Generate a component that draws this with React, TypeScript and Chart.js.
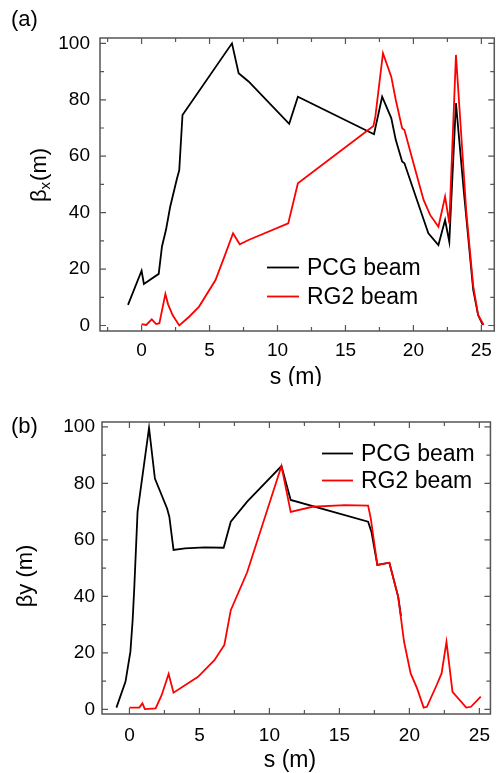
import React, { useEffect, useRef } from "react";
import { Chart, registerables } from "chart.js";

Chart.register(...registerables);

const FONT = "'Liberation Sans', Arial, Helvetica, sans-serif";

// ---------- Panel (a): beta_x ----------
const sPcgX = [-1.0, 0.0, 0.17, 1.26, 1.5, 1.8, 2.1, 2.6, 2.77, 3.01, 6.65, 7.14, 7.87, 10.86, 11.5, 17.1, 17.7, 18.37, 18.7, 19.17, 19.34, 20.26, 21.1, 21.84, 22.33, 22.64, 23.13, 23.7, 24.4, 24.76, 25.1];
const betaPcgX = [7.3, 19.4, 14.7, 18.3, 28, 34, 42, 52, 55, 74.6, 100, 89.4, 86.5, 71.5, 81.1, 67.8, 81.1, 73.5, 65.8, 58.1, 57.5, 44.5, 32.7, 28.5, 37.4, 29.7, 78.8, 48, 12.6, 3.7, 0.2];

const sRg2X = [0.0, 0.34, 0.75, 1.07, 1.31, 1.75, 1.95, 2.28, 2.77, 3.5, 4.23, 5.44, 6.1, 6.73, 7.22, 7.87, 10.79, 11.5, 17.06, 17.2, 17.76, 18.37, 18.7, 19.17, 19.34, 20.14, 20.75, 21.23, 21.84, 22.33, 22.64, 23.13, 23.9, 24.4, 24.76, 25.17];
const betaRg2X = [0.5, 0.2, 2.2, 0.5, 0.8, 11.2, 7.5, 3.7, 0.0, 3.1, 6.7, 16.1, 24.5, 32.7, 28.8, 30.3, 36.2, 50.4, 70.7, 74, 96.5, 88.2, 80, 69.9, 69.3, 55.1, 44.5, 39.2, 35, 45.7, 36.2, 95.9, 39.8, 14, 3.7, 0.2];

// ---------- Panel (b): beta_y ----------
const sPcgY = [-0.93, -0.28, 0.07, 0.23, 0.35, 0.58, 1.4, 1.82, 2.69, 2.85, 3.15, 3.97, 5.37, 6.73, 7.24, 8.41, 10.86, 11.52, 17.05, 17.29, 17.71, 18.57, 19.2, 19.4];
const betaPcgY = [0.6, 9.8, 20.4, 31.6, 43.4, 69.9, 99.6, 81.7, 71.1, 68.2, 56.4, 57.0, 57.3, 57.2, 66.4, 73.5, 86.1, 74.1, 66.4, 62.8, 51.1, 51.9, 39.8, 33];

const sRg2Y = [0.0, 0.7, 0.93, 1.1, 1.87, 2.3, 2.8, 3.15, 4.9, 6.07, 6.78, 7.24, 8.41, 10.86, 11.52, 13.08, 15.42, 17.05, 17.24, 17.71, 18.57, 19.2, 19.62, 20.09, 20.55, 21.02, 21.25, 21.95, 22.3, 22.65, 23.08, 24.06, 24.4, 25.1];
const betaRg2Y = [0.6, 0.6, 2.1, 0.1, 0.3, 5, 12.5, 5.9, 11.5, 17.4, 22.8, 35.1, 48.5, 86.1, 69.9, 71.7, 72.3, 72.1, 67.6, 51.1, 51.9, 39.8, 23.9, 12.7, 7.4, 0.6, 0.9, 8.6, 12.7, 23.9, 6.2, 0.6, 0.9, 4.5];

// ---------- Ticks & labels ----------
const xMajor = [0, 5, 10, 15, 20, 25];
const xMinor = [-2.5, 2.5, 7.5, 12.5, 17.5, 22.5];
const yMajor = [0, 20, 40, 60, 80, 100];
const yMinor = [10, 30, 50, 70, 90];
const seriesNames = ["PCG beam", "RG2 beam"];
const seriesColors = ["#000000", "#ff0000"];

type Panel = {
  height: number;
  xMin: number; xMax: number; yMin: number; yMax: number;
  area: { left: number; top: number; right: number; bottom: number };
  xPad: number; yPad: number;
  series: { s: number[]; b: number[] }[];
  legend: { x1: number; x2: number; tx: number; ys: number[] };
  panelLabel: { text: string; x: number; y: number };
  yTitle: { x: number; y: number; main: string; sub: string; rest: string };
  xTitle: { x: number; y: number; text: string };
};

const panels: Panel[] = [
  {
    height: 386,
    xMin: -3.06, xMax: 25.95, yMin: -1.95, yMax: 101.9,
    area: { left: 100, top: 38, right: 498, bottom: 331 },
    xPad: 8, yPad: 10,
    series: [{ s: sPcgX, b: betaPcgX }, { s: sRg2X, b: betaRg2X }],
    legend: { x1: 267, x2: 299, tx: 307, ys: [267.5, 296.5] },
    panelLabel: { text: "(a)", x: 11, y: 20 },
    yTitle: { x: 40, y: 175, main: "\u03b2", sub: "x", rest: "(m)" },
    xTitle: { x: 296, y: 378, text: "s (m)" },
  },
  {
    height: 387,
    xMin: -1.96, xMax: 25.79, yMin: -1.66, yMax: 101.7,
    area: { left: 102, top: 36, right: 498, bottom: 328 },
    xPad: 10, yPad: 7,
    series: [{ s: sPcgY, b: betaPcgY }, { s: sRg2Y, b: betaRg2Y }],
    legend: { x1: 322, x2: 353, tx: 361, ys: [67.5, 94.5] },
    panelLabel: { text: "(b)", x: 11, y: 41 },
    yTitle: { x: 26, y: 190, main: "\u03b2y (m)", sub: "", rest: "" },
    xTitle: { x: 290, y: 375, text: "s (m)" },
  },
];

function makeDecor(p: Panel) {
  return {
    id: "decor",
    afterDraw(chart: any) {
      const ctx: CanvasRenderingContext2D = chart.ctx;
      const { left, top, right, bottom } = chart.chartArea;
      const xs = chart.scales.x;
      const ys = chart.scales.y;
      ctx.save();
      // frame
      ctx.strokeStyle = "#555555";
      ctx.lineWidth = 1.5;
      ctx.strokeRect(left, top, right - left, bottom - top);
      // ticks (inward)
      ctx.lineWidth = 1.2;
      const tickX = (v: number, len: number) => {
        if (v < p.xMin || v > p.xMax) return;
        const px = xs.getPixelForValue(v);
        ctx.beginPath();
        ctx.moveTo(px, bottom); ctx.lineTo(px, bottom - len);
        ctx.moveTo(px, top); ctx.lineTo(px, top + len);
        ctx.stroke();
      };
      const tickY = (v: number, len: number) => {
        if (v < p.yMin || v > p.yMax) return;
        const py = ys.getPixelForValue(v);
        ctx.beginPath();
        ctx.moveTo(left, py); ctx.lineTo(left + len, py);
        ctx.moveTo(right, py); ctx.lineTo(right - len, py);
        ctx.stroke();
      };
      xMajor.forEach((v) => tickX(v, 6));
      xMinor.forEach((v) => tickX(v, 4));
      yMajor.forEach((v) => tickY(v, 6));
      yMinor.forEach((v) => tickY(v, 4));

      // legend
      ctx.font = `23px ${FONT}`;
      ctx.textBaseline = "middle";
      ctx.textAlign = "left";
      seriesNames.forEach((name, i) => {
        const y = p.legend.ys[i];
        ctx.strokeStyle = seriesColors[i];
        ctx.lineWidth = 1.8;
        ctx.beginPath();
        ctx.moveTo(p.legend.x1, y); ctx.lineTo(p.legend.x2, y);
        ctx.stroke();
        ctx.fillStyle = "#000";
        ctx.fillText(name, p.legend.tx, y + 1);
      });

      // panel label
      ctx.fillStyle = "#000";
      ctx.font = `22px ${FONT}`;
      ctx.textAlign = "left";
      ctx.textBaseline = "middle";
      ctx.fillText(p.panelLabel.text, p.panelLabel.x, p.panelLabel.y);

      // x title
      ctx.font = `23px ${FONT}`;
      ctx.textAlign = "center";
      ctx.fillText(p.xTitle.text, p.xTitle.x, p.xTitle.y);

      // y title (rotated)
      const t = p.yTitle;
      const mainFont = `22px ${FONT}`;
      const subFont = `15px ${FONT}`;
      ctx.font = mainFont;
      const w1 = ctx.measureText(t.main).width;
      const w3 = ctx.measureText(t.rest).width;
      ctx.font = subFont;
      const w2 = t.sub ? ctx.measureText(t.sub).width + 1 : 0;
      const total = w1 + w2 + w3;
      ctx.translate(t.x, t.y);
      ctx.rotate(-Math.PI / 2);
      ctx.textAlign = "left";
      ctx.textBaseline = "middle";
      let cx = -total / 2;
      ctx.font = mainFont;
      ctx.fillText(t.main, cx, 0);
      cx += w1;
      if (t.sub) {
        ctx.font = subFont;
        ctx.fillText(t.sub, cx, 6);
        cx += w2;
      }
      if (t.rest) {
        ctx.font = mainFont;
        ctx.fillText(t.rest, cx, 0);
      }
      ctx.restore();
    },
  };
}

function PanelChart({ p }: { p: Panel }) {
  const ref = useRef<HTMLCanvasElement | null>(null);
  useEffect(() => {
    if (!ref.current) return;
    const datasets = p.series.map((ser, i) => ({
      label: seriesNames[i],
      data: ser.s.map((s, k) => ({ x: s, y: ser.b[k] })),
      borderColor: seriesColors[i],
      backgroundColor: seriesColors[i],
      borderWidth: 1.8,
      pointRadius: 0,
      tension: 0,
      fill: false,
      order: i === 0 ? 2 : 1,
    }));
    const chart = new Chart(ref.current, {
      type: "line",
      data: { datasets },
      options: {
        animation: false,
        responsive: false,
        maintainAspectRatio: false,
        layout: {
          padding: { left: 0, top: p.area.top, right: 500 - p.area.right, bottom: 0 },
        },
        plugins: { legend: { display: false }, tooltip: { enabled: false }, title: { display: false } },
        scales: {
          x: {
            type: "linear",
            min: p.xMin,
            max: p.xMax,
            grid: { display: false, drawTicks: false },
            border: { display: false },
            ticks: {
              color: "#000",
              font: { family: FONT, size: 19 },
              padding: p.xPad,
              maxRotation: 0,
              autoSkip: false,
            },
            afterBuildTicks: (scale: any) => {
              scale.ticks = xMajor.map((v) => ({ value: v }));
            },
            afterFit: (scale: any) => {
              scale.height = p.height - p.area.bottom;
            },
          },
          y: {
            type: "linear",
            min: p.yMin,
            max: p.yMax,
            grid: { display: false, drawTicks: false },
            border: { display: false },
            ticks: {
              color: "#000",
              font: { family: FONT, size: 19 },
              padding: p.yPad,
              autoSkip: false,
            },
            afterBuildTicks: (scale: any) => {
              scale.ticks = yMajor.map((v) => ({ value: v }));
            },
            afterFit: (scale: any) => {
              scale.width = p.area.left;
            },
          },
        },
      } as any,
      plugins: [makeDecor(p)],
    });
    return () => chart.destroy();
  }, [p]);
  return (
    <canvas
      ref={ref}
      width={500}
      height={p.height}
      style={{ display: "block", width: 500, height: p.height }}
    />
  );
}

export default function App() {
  return (
    <div
      style={{
        position: "absolute",
        left: 0,
        top: 0,
        width: 500,
        height: 773,
        background: "#fff",
      }}
    >
      {panels.map((p, i) => (
        <PanelChart key={i} p={p} />
      ))}
    </div>
  );
}
